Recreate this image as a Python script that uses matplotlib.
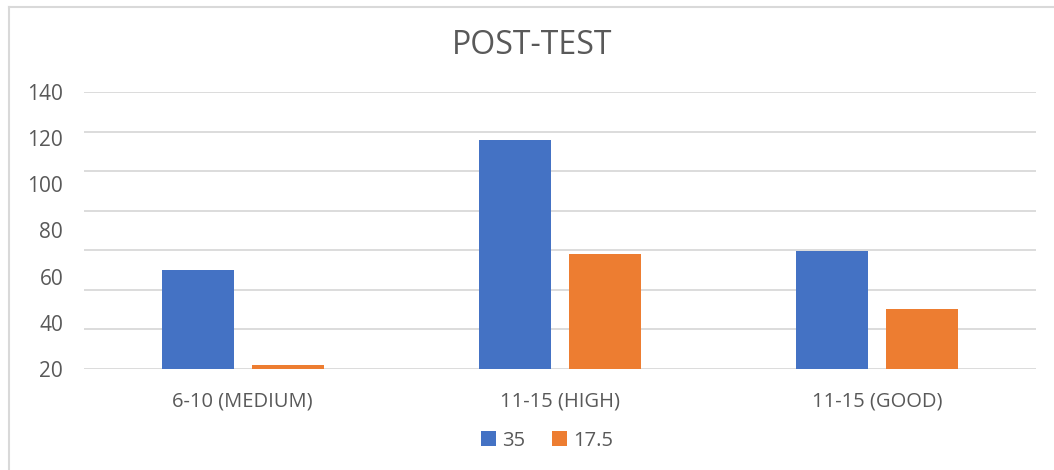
import numpy as np
import matplotlib.pyplot as plt
from matplotlib.lines import Line2D

plt.rcParams['font.family'] = ['Open Sans', 'DejaVu Sans']

# Data
categories = ["6-10 (MEDIUM)", "11-15 (HIGH)", "11-15 (GOOD)"]
series_names = ["35", "17.5"]
values_35 = [63, 119, 71]
values_17_5 = [21.7, 70, 46]
y_ticks = [20, 40, 60, 80, 100, 120, 140]

blue = "#4472C4"
orange = "#ED7D31"
text_gray = "#595959"

fig = plt.figure(figsize=(10.54, 4.70), dpi=100)
ax = fig.add_axes([0.0797, 0.2149, 0.903, 0.5894])

x = np.arange(len(categories))
w = 0.227
off = 0.142
ax.bar(x - off, values_35, width=w, color=blue, label=series_names[0], zorder=3)
ax.bar(x + off, values_17_5, width=w, color=orange, label=series_names[1], zorder=3)

ax.set_xlim(-0.5, len(categories) - 0.5)
ax.set_ylim(20, 140)

# gridlines (8 evenly spaced lines, as in the source)
for g in np.linspace(20, 140, 8):
    ax.axhline(g, color="#D9D9D9", linewidth=1.3, zorder=1)

ax.set_yticks(y_ticks)
ax.set_yticklabels([str(t) for t in y_ticks], fontsize=15, color=text_gray)
ax.set_xticks(x)
ax.set_xticklabels(categories, fontsize=14.5, color=text_gray)
ax.tick_params(axis='both', length=0)
ax.tick_params(axis='y', pad=15)
ax.tick_params(axis='x', pad=16)
for s in ax.spines.values():
    s.set_visible(False)

fig.text(0.505, 0.903, "POST-TEST", ha='center', va='center', fontsize=23, color=text_gray)

leg = fig.legend(loc='center', bbox_to_anchor=(0.519, 0.062), ncol=2, frameon=False,
                 fontsize=14.5, handlelength=0.75, handleheight=0.75, handletextpad=0.3,
                 columnspacing=1.3)
for t in leg.get_texts():
    t.set_color(text_gray)

# chart frame (left and top edges visible)
fig.add_artist(Line2D([0.0085, 0.0085], [0, 0.986], color="#D9D9D9", linewidth=1.5,
                      transform=fig.transFigure))
fig.add_artist(Line2D([0.0085, 1.0], [0.986, 0.986], color="#D9D9D9", linewidth=1.5,
                      transform=fig.transFigure))

fig.savefig("out.png", dpi=100)
